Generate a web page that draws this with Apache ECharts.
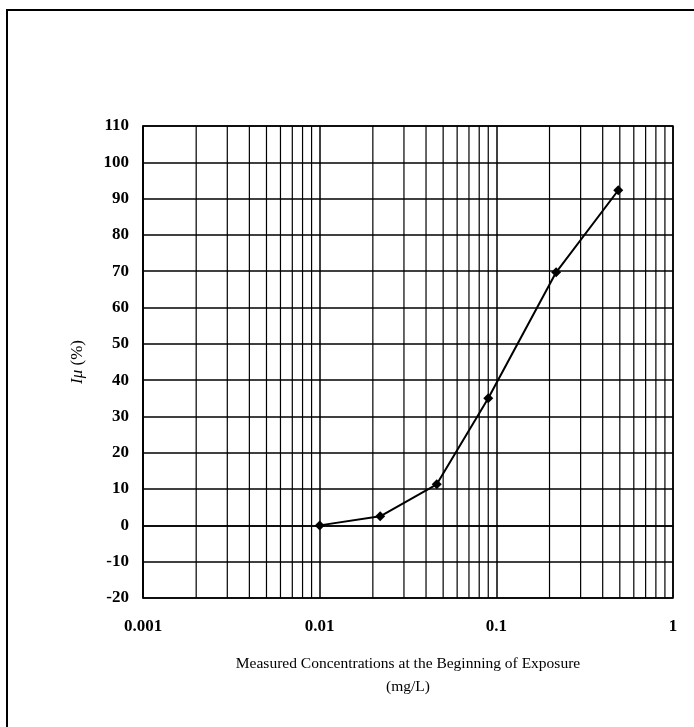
<!DOCTYPE html>
<html>
<head>
<meta charset="utf-8">
<script src="https://cdn.jsdelivr.net/npm/echarts@6/dist/echarts.min.js"></script>
<style>
  html, body { margin: 0; padding: 0; background: #fff; }
  #chart { width: 694px; height: 727px; }
</style>
</head>
<body>
<div id="chart"></div>
<script>
// measured concentrations (mg/L) and inhibition Iμ (%)
const concentrations = [0.01, 0.022, 0.046, 0.09, 0.218, 0.49]
const inhibition = [0, 2.5, 11.3, 35, 69.7, 92.3]
// minor log grid lines (2..9 of each decade)
const minorLines = [
  0.002, 0.003, 0.004, 0.005, 0.006, 0.007, 0.008, 0.009,
  0.02, 0.03, 0.04, 0.05, 0.06, 0.07, 0.08, 0.09,
  0.2, 0.3, 0.4, 0.5, 0.6, 0.7, 0.8, 0.9
]
const xTickLabels = ['0.001', '0.01', '0.1', '1']

const font = '"Liberation Serif", "DejaVu Serif", serif'
const yMin = -20
const yMax = 110

let chart = echarts.init(document.getElementById('chart'))

let points = concentrations.map((c, i) => [c, inhibition[i]])

chart.setOption({
  animation: false,
  backgroundColor: '#fff',
  grid: {
    left: 143,
    right: 21,
    top: 126,
    bottom: 129,
    show: true,
    borderColor: '#000',
    borderWidth: 1.5
  },
  graphic: [{
    type: 'rect',
    shape: { x: 7, y: 10, width: 720, height: 740 },
    style: { fill: 'none', stroke: '#000', lineWidth: 2 },
    silent: true
  }],
  xAxis: {
    type: 'log',
    logBase: 10,
    min: 0.001,
    max: 1,
    name: 'Measured Concentrations at the Beginning of Exposure\n(mg/L)',
    nameLocation: 'middle',
    nameGap: 54,
    nameTextStyle: {
      fontFamily: font,
      fontSize: 15.5,
      color: '#000',
      lineHeight: 23
    },
    axisLine: { show: true, lineStyle: { color: '#000', width: 1.5 } },
    axisTick: { show: false },
    axisLabel: {
      fontFamily: font,
      fontSize: 17,
      fontWeight: 'bold',
      color: '#000',
      margin: 20,
      formatter: function (v) {
        let idx = Math.round(Math.log10(v)) + 3
        return xTickLabels[idx] !== undefined ? xTickLabels[idx] : ''
      }
    },
    splitLine: { show: true, lineStyle: { color: '#000', width: 1.5 } }
  },
  yAxis: {
    type: 'value',
    min: yMin,
    max: yMax,
    interval: 10,
    name: '{i|Iμ} (%)',
    nameLocation: 'middle',
    nameRotate: 90,
    nameGap: 57,
    nameTextStyle: {
      fontFamily: font,
      fontSize: 17,
      color: '#000',
      rich: {
        i: { fontFamily: font, fontSize: 17, fontStyle: 'italic', color: '#000' }
      }
    },
    axisLine: { show: true, lineStyle: { color: '#000', width: 1.5 } },
    axisTick: { show: false },
    axisLabel: {
      fontFamily: font,
      fontSize: 17,
      fontWeight: 'bold',
      color: '#000',
      margin: 14
    },
    splitLine: { show: true, lineStyle: { color: '#000', width: 1.5 } }
  },
  series: [
    {
      name: 'minor grid',
      type: 'custom',
      silent: true,
      z: 1,
      data: minorLines.map(v => [v]),
      encode: { x: 0 },
      renderItem: function (params, api) {
        let v = api.value(0)
        let p1 = api.coord([v, yMin])
        let p2 = api.coord([v, yMax])
        return {
          type: 'line',
          shape: { x1: p1[0], y1: p1[1], x2: p2[0], y2: p2[1] },
          style: { stroke: '#000', lineWidth: 1.2 }
        }
      }
    },
    {
      name: 'Iμ',
      type: 'line',
      data: points,
      symbol: 'diamond',
      symbolSize: 10,
      itemStyle: { color: '#000' },
      lineStyle: { color: '#000', width: 2 },
      z: 5
    }
  ]
})
</script>
</body>
</html>
